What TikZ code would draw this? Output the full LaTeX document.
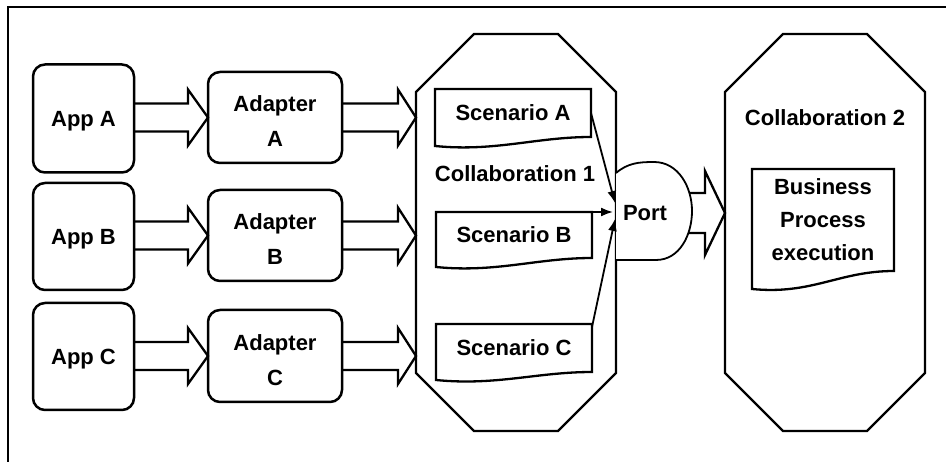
\documentclass[tikz,border=0pt]{standalone}
\usepackage{fontspec}
\setmainfont{Liberation Sans}
\usetikzlibrary{calc,arrows.meta}

% hollow block arrow: #1 start, #2 tip, #3 shaft half-width, #4 head half-width, #5 head length
\newcommand{\blockarrow}[5]{%
  \draw[blockline] let \p1=#1, \p2=#2 in
    (\x1,\y2+#3pt) -- (\x2-#5pt,\y2+#3pt) -- (\x2-#5pt,\y2+#4pt) -- (\x2,\y2)
    -- (\x2-#5pt,\y2-#4pt) -- (\x2-#5pt,\y2-#3pt) -- (\x1,\y2-#3pt);}

% chamfered outline around a placeholder node: #1 node, #2 chamfer
\newcommand{\octagon}[2]{%
  \draw[outline] ($(#1.north west)+(#2,0)$) -- ($(#1.north east)+(-#2,0)$)
    -- ($(#1.north east)+(0,#2)$) -- ($(#1.south east)+(0,-#2)$)
    -- ($(#1.south east)+(-#2,0)$) -- ($(#1.south west)+(#2,0)$)
    -- ($(#1.south west)+(0,-#2)$) -- ($(#1.north west)+(0,#2)$) -- cycle;}

% document outline with a wavy lower edge: #1 node, #2 extra drop at the left
\newcommand{\docshape}[2]{%
  \draw[outline] ($(#1.south west)+(0,#2)$) -- (#1.north west) -- (#1.north east) -- (#1.south east)
    .. controls ($(#1.south east)+(-55,0)$) and ($(#1.south west)+(60,#2+6)$)
    .. ($(#1.south west)+(0,#2)$) -- cycle;}

\begin{document}
\begin{tikzpicture}[x=1pt,y=-1pt,
  every node/.style={font=\fontsize{22}{26}\selectfont\bfseries, inner sep=0pt, outer sep=0pt},
  appbox/.style={draw, line width=2.5pt, rounded corners=12pt, align=center,
    text height=16pt, text depth=0pt},
  adbox/.style={appbox, font=\fontsize{22}{35}\selectfont\bfseries, text height=59pt},
  area/.style={rectangle, inner sep=0pt, outer sep=0pt},
  docnode/.style={align=center},
  outline/.style={draw, line width=2.3pt, line join=miter},
  blockline/.style={draw, line width=2.3pt, line join=miter},
  portarrow/.style={-{Latex[length=12pt,width=9pt]}, line width=1.8pt}]

\useasboundingbox (0,0) rectangle (946,462);
\draw[line width=2pt] (8,462) -- (8,7) -- (946,7);

% applications
\node[appbox, minimum width=101pt, minimum height=108pt] (appA) at (83.5,118.5) {App A};
\node[appbox, minimum width=101pt, minimum height=107pt] (appB) at (83.5,236.5) {App B};
\node[appbox, minimum width=101pt, minimum height=107pt] (appC) at (83.5,356.5) {App C};

% adapters
\node[adbox, minimum width=134pt, minimum height=91pt] (adA) at (275,117.5) {Adapter\\A};
\node[adbox, minimum width=134pt, minimum height=91pt] (adB) at (275,235.5) {Adapter\\B};
\node[adbox, minimum width=134pt, minimum height=92pt] (adC) at (275,356) {Adapter\\C};

% collaborations
\node[area, minimum width=200pt, minimum height=397pt] (c1) at (516,232.5) {};
\node[area, minimum width=200pt, minimum height=397pt] (c2) at (825,232.5) {};
\octagon{c1}{58}
\octagon{c2}{58}
\node (c1label) at (515,174) {Collaboration 1};
\node (c2label) at (825,118) {Collaboration 2};

% scenarios and the business process
\node[docnode, minimum width=156pt, minimum height=48pt, text height=16pt, text depth=0pt] (sA) at (513,113) {Scenario A};
\node[docnode, minimum width=156pt, minimum height=46pt, text height=16pt, text depth=0pt] (sB) at (514,235) {Scenario B};
\node[docnode, minimum width=156pt, minimum height=48pt, text height=16pt, text depth=0pt] (sC) at (514,348) {Scenario C};
\docshape{sA}{9}
\docshape{sB}{9}
\docshape{sC}{8}
\node[docnode, font=\fontsize{22}{33}\selectfont\bfseries, minimum width=142pt, minimum height=102pt]
  (bp) at (823,220) {Business\\Process\\execution};
\docshape{bp}{18}

% block arrows
\blockarrow{(appA.east)}{(adA.west)}{14}{28}{20}
\blockarrow{(appB.east)}{(adB.west)}{14}{28}{20}
\blockarrow{(appC.east)}{(adC.west)}{14}{28}{20}
\blockarrow{(adA.east)}{(c1.west |- adA.east)}{14}{28}{18}
\blockarrow{(adB.east)}{(c1.west |- adB.east)}{14}{28}{18}
\blockarrow{(adC.east)}{(c1.west |- adC.east)}{14}{28}{18}

% port
\coordinate (portc) at (660,213);
\blockarrow{(portc)}{(c2.west |- portc)}{20}{42}{20}
\draw[outline, fill=white, line width=1.8pt] (616,173) to[out=40,in=180] (654,162)
  to[out=0,in=90] (692,211) to[out=-90,in=0] (656,260) -- (616,260);
\node (port) at (645,213) {Port};

% scenario links into the port
\coordinate (pin) at (613,212);
\draw[portarrow] (sA.east) -- ($(pin)+(2,-9)$);
\draw[portarrow] (sB.north east) -- (pin);
\draw[portarrow] ([yshift=-3pt]sC.north east) -- ($(pin)+(2,7)$);
\end{tikzpicture}
\end{document}
